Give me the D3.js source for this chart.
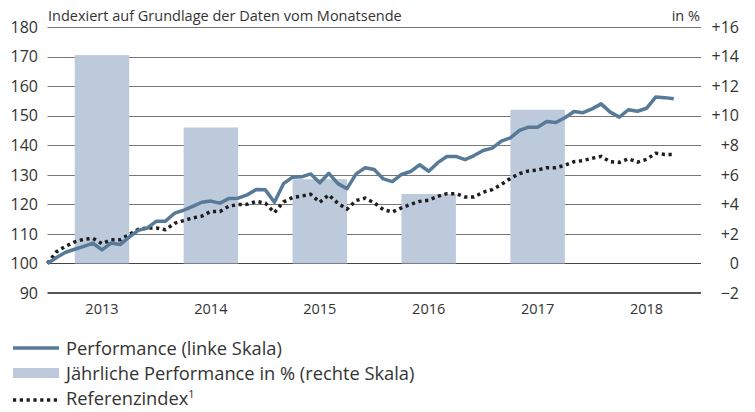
<!DOCTYPE html>
<html>
<head>
<meta charset="utf-8">
<script src="https://cdn.jsdelivr.net/npm/d3@7"></script>
<style>
  body { margin: 0; background: #fff; }
  svg { display: block; font-family: "Open Sans", "Noto Sans", sans-serif; }
</style>
</head>
<body>
<svg id="chart" width="755" height="412"></svg>
<script>
// years and yearly performance in % (right scale)
var years = ["2013", "2014", "2015", "2016", "2017", "2018"];
var yearlyPerf = [14.1, 9.2, 5.7, 4.7, 10.4, null];

// month-end index values, Dec 2012 = 100 (left scale)
var performance = [
  100, 102, 103.8, 104.8, 105.8, 106.9, 104.6, 106.9, 106.4, 108.9, 111.2, 112,
  114.3, 114.3, 117, 118, 119.3, 120.7, 121.1, 120.4, 122, 122.1, 123.2, 125,
  124.9, 120.7, 127, 129.2, 129.3, 130.3, 127.3, 130.5, 127, 125.3, 130.3, 132.4,
  131.8, 128.6, 127.7, 130.1, 131.1, 133.4, 131.2, 134.1, 136.2, 136.2, 135.1, 136.5,
  138.2, 139, 141.4, 142.5, 145, 146.1, 146.1, 148, 147.7, 149.3, 151.4, 151,
  152.3, 154, 151.2, 149.5, 152, 151.5, 152.5, 156.3, 156.1, 155.7
];
var referenz = [
  100, 104, 105.8, 107.3, 108.2, 108.5, 106.7, 108, 108, 109.8, 111.5, 112,
  112, 111.4, 113.6, 114.5, 115.4, 116, 117.6, 117.6, 119.4, 119.9, 120, 121,
  120.4, 117.2, 120.8, 122.3, 122.8, 123.4, 120.7, 123.2, 120.3, 118.4, 121.3, 122.1,
  120.5, 118.2, 117.4, 118.8, 120, 121, 121.4, 122.7, 123.6, 123.6, 122.5, 122.5,
  124.1, 125, 126.7, 128.8, 130.4, 131.3, 131.6, 132.4, 132.4, 133.2, 134.4, 134.8,
  135.6, 136.2, 134.4, 134.2, 135.4, 134.3, 135.2, 137.3, 136.9, 136.9
];

var leftTicks = [90, 100, 110, 120, 130, 140, 150, 160, 170, 180];
var rightTicks = [-2, 0, 2, 4, 6, 8, 10, 12, 14, 16];

var headerText = "Indexiert auf Grundlage der Daten vom Monatsende";
var unitText = "in %";
var legendItems = [
  { type: "line", label: "Performance (linke Skala)" },
  { type: "bar", label: "Jährliche Performance in % (rechte Skala)" },
  { type: "dots", label: "Referenzindex" }
];

(function () {
  var colors = { line: "#587a99", bar: "#bccadb", dots: "#1e1e1e", text: "#333", grid: "#777" };

  var svg = d3.select("#chart");
  var plotLeft = 47.5, plotRight = 701, plotTop = 27, plotBottom = 293;

  var xBand = d3.scaleBand().domain(years).range([plotLeft, plotRight]).paddingInner(0.5).paddingOuter(0.25);
  var xMonth = d3.scaleLinear().domain([0, 72]).range([plotLeft, plotRight]);
  var yLeft = d3.scaleLinear().domain([90, 180]).range([plotBottom, plotTop]);
  var yRight = d3.scaleLinear().domain([-2, 16]).range([plotBottom, plotTop]);

  // grid lines
  svg.append("g").selectAll("line").data(leftTicks.filter(function(d) { return d !== 90; }))
    .enter().append("line")
    .attr("x1", plotLeft).attr("x2", plotRight)
    .attr("y1", function(d) { return Math.round(yLeft(d)) + 0.5; })
    .attr("y2", function(d) { return Math.round(yLeft(d)) + 0.5; })
    .attr("stroke", function(d) { return d === 100 ? "#444" : colors.grid; })
    .attr("stroke-width", 1);

  // bars
  svg.append("g").selectAll("rect")
    .data(years.map(function(y, i) { return { year: y, v: yearlyPerf[i] }; })
      .filter(function(d) { return d.v !== null; }))
    .enter().append("rect")
    .attr("x", function(d) { return xBand(d.year); })
    .attr("width", xBand.bandwidth())
    .attr("y", function(d) { return yRight(d.v); })
    .attr("height", function(d) { return yRight(0) - yRight(d.v); })
    .attr("fill", colors.bar);

  // bottom axis line
  svg.append("line").attr("x1", plotLeft).attr("x2", plotRight)
    .attr("y1", yLeft(90)).attr("y2", yLeft(90))
    .attr("stroke", "#555").attr("stroke-width", 2);

  // lines
  var lineGen = d3.line()
    .x(function(d, i) { return xMonth(i); })
    .y(function(d) { return yLeft(d); });

  svg.append("path").datum(referenz)
    .attr("d", lineGen)
    .attr("fill", "none")
    .attr("stroke", colors.dots)
    .attr("stroke-width", 3.5)
    .attr("stroke-dasharray", "3.2,3.6");

  svg.append("path").datum(performance)
    .attr("d", lineGen)
    .attr("fill", "none")
    .attr("stroke", colors.line)
    .attr("stroke-width", 3.5)
    .attr("stroke-linejoin", "round");

  // left axis labels
  svg.append("g").selectAll("text").data(leftTicks).enter().append("text")
    .attr("x", 38).attr("y", function(d) { return yLeft(d); })
    .attr("dy", "0.36em")
    .attr("text-anchor", "end")
    .attr("font-size", 16)
    .attr("fill", colors.text)
    .text(function(d) { return d; });

  // right axis labels
  svg.append("g").selectAll("text").data(rightTicks).enter().append("text")
    .attr("x", 739).attr("y", function(d) { return yRight(d); })
    .attr("dy", "0.36em")
    .attr("text-anchor", "end")
    .attr("font-size", 16)
    .attr("fill", colors.text)
    .text(function(d) { return d > 0 ? "+" + d : (d < 0 ? "\u2212" + Math.abs(d) : "0"); });

  // year labels
  svg.append("g").selectAll("text").data(years).enter().append("text")
    .attr("x", function(d) { return xBand(d) + xBand.bandwidth() / 2; })
    .attr("y", 314)
    .attr("text-anchor", "middle")
    .attr("font-size", 14.5)
    .attr("fill", colors.text)
    .text(function(d) { return d; });

  // header
  svg.append("text").attr("x", 48).attr("y", 21)
    .attr("font-size", 14.5).attr("fill", colors.text).text(headerText);
  svg.append("text").attr("x", 700).attr("y", 21).attr("text-anchor", "end")
    .attr("font-size", 14.5).attr("fill", colors.text).text(unitText);

  // legend
  var legend = svg.append("g").attr("transform", "translate(13,348)");
  var rows = legend.selectAll("g").data(legendItems).enter().append("g")
    .attr("transform", function(d, i) { return "translate(0," + (i * 25) + ")"; });
  rows.each(function(d) {
    var g = d3.select(this);
    if (d.type === "line") {
      g.append("line").attr("x1", 0).attr("x2", 46).attr("y1", 0).attr("y2", 0)
        .attr("stroke", colors.line).attr("stroke-width", 3.5);
    } else if (d.type === "bar") {
      g.append("rect").attr("x", 0).attr("y", -5).attr("width", 46).attr("height", 10)
        .attr("fill", colors.bar);
    } else {
      g.append("line").attr("x1", 0).attr("x2", 46).attr("y1", 2).attr("y2", 2)
        .attr("stroke", colors.dots).attr("stroke-width", 3.5).attr("stroke-dasharray", "3.2,3.6");
    }
    var t = g.append("text").attr("x", 53).attr("y", 0).attr("dy", "0.36em")
      .attr("font-size", 18.3).attr("fill", colors.text).text(d.label);
    if (d.type === "dots") {
      t.append("tspan").attr("dy", "-0.6em").attr("font-size", 11).text("1");
    }
  });
}());
</script>
</body>
</html>
